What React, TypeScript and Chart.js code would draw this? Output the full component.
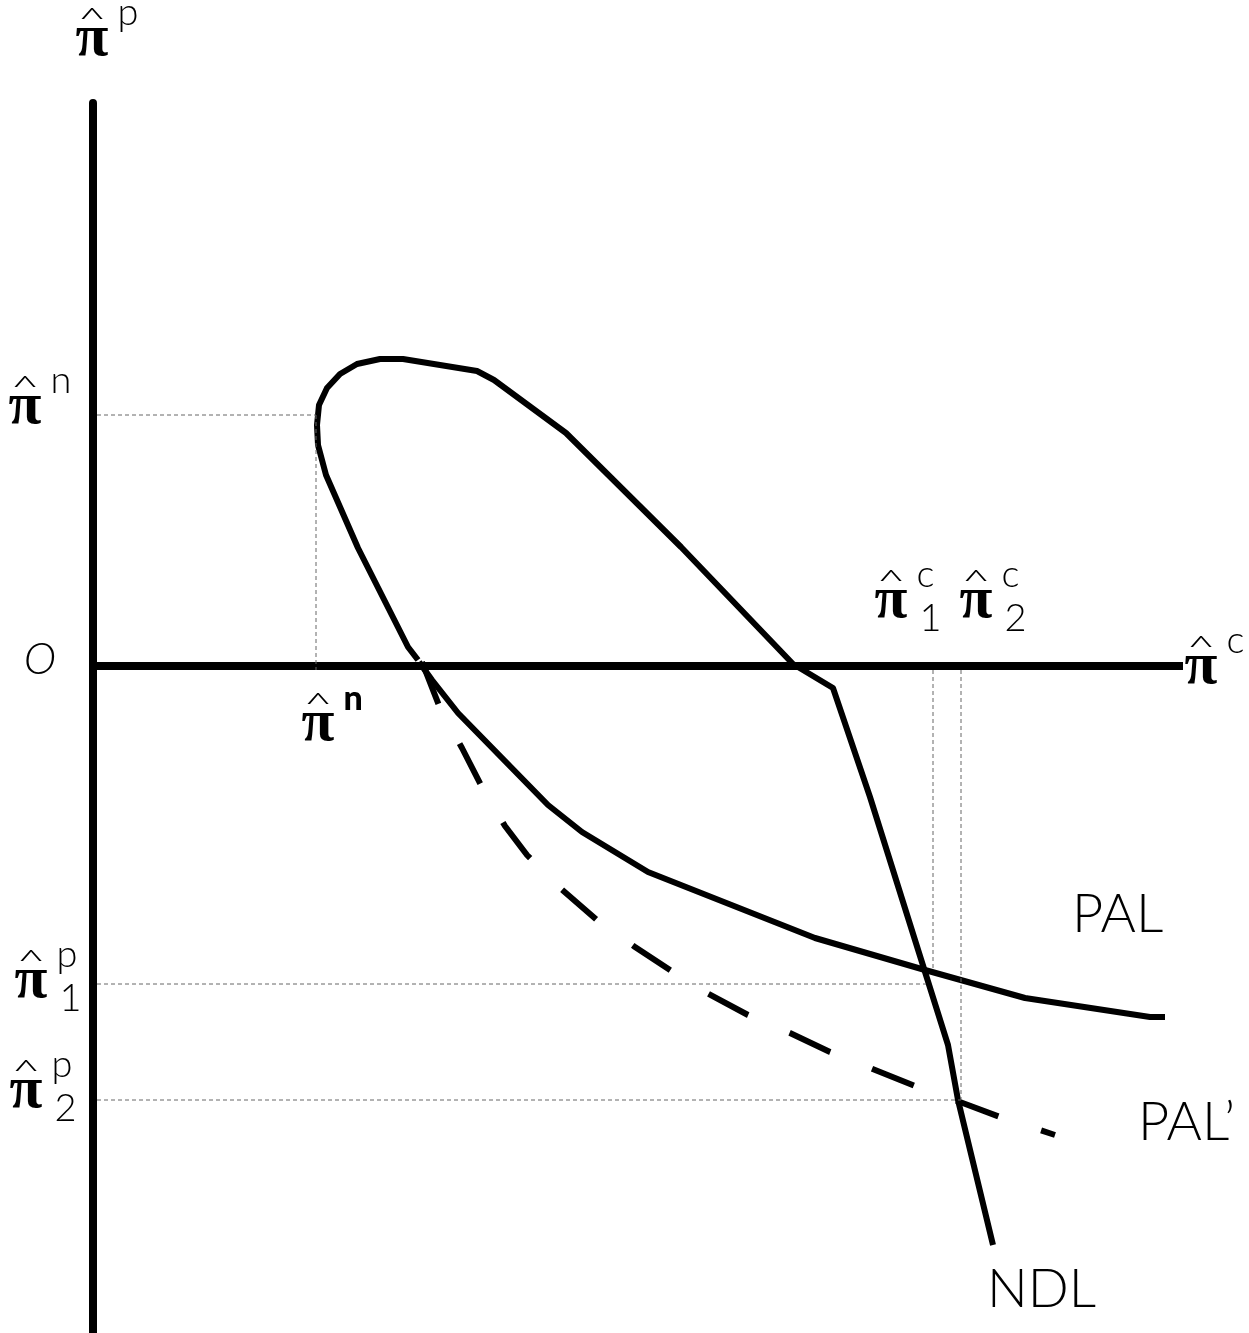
import { useEffect, useRef } from "react";
import { Chart, registerables } from "chart.js";

Chart.register(...registerables);

// Diagram coordinates: origin O at the crossing of the two axes.
const verticalAxis = [
  { x: 0, y: 56.3 },
  { x: 0, y: -66.7 },
];
const horizontalAxis = [
  { x: 0, y: 0 },
  { x: 109.0, y: 0 },
];

// NDL: rises from the lower right, loops over the top and comes back down to the axis.
const ndlCurve = [
  { x: 90.0, y: -57.9 },
  { x: 86.5, y: -43.4 },
  { x: 85.5, y: -37.9 },
  { x: 77.7, y: -13.1 },
  { x: 74.0, y: -2.2 },
  { x: 70.0, y: 0.2 },
  { x: 58.8, y: 11.9 },
  { x: 47.3, y: 23.3 },
  { x: 40.1, y: 28.6 },
  { x: 38.4, y: 29.5 },
  { x: 31.0, y: 30.7 },
  { x: 28.7, y: 30.7 },
  { x: 26.4, y: 30.2 },
  { x: 24.7, y: 29.2 },
  { x: 23.4, y: 27.8 },
  { x: 22.6, y: 26.1 },
  { x: 22.4, y: 24.1 },
  { x: 22.5, y: 22.1 },
  { x: 23.3, y: 19.1 },
  { x: 26.5, y: 11.8 },
  { x: 31.5, y: 1.9 },
  { x: 32.5, y: 0.6 },
];

// PAL: solid adjustment line.
const palCurve = [
  { x: 32.6, y: 0.4 },
  { x: 33.9, y: -1.4 },
  { x: 36.5, y: -4.7 },
  { x: 45.5, y: -13.9 },
  { x: 48.9, y: -16.6 },
  { x: 55.5, y: -20.6 },
  { x: 72.2, y: -27.2 },
  { x: 83.2, y: -30.4 },
  { x: 93.2, y: -33.2 },
  { x: 105.7, y: -35.1 },
  { x: 107.2, y: -35.1 },
];

// PAL': shifted (dashed) adjustment line.
const palShiftedCurve = [
  { x: 32.9, y: 0.4 },
  { x: 34.7, y: -4.2 },
  { x: 36.9, y: -8.2 },
  { x: 38.9, y: -12.1 },
  { x: 41.2, y: -16.0 },
  { x: 43.4, y: -18.9 },
  { x: 46.7, y: -22.2 },
  { x: 50.5, y: -25.5 },
  { x: 54.2, y: -28.1 },
  { x: 57.7, y: -30.4 },
  { x: 61.2, y: -32.6 },
  { x: 65.5, y: -34.9 },
  { x: 69.7, y: -36.7 },
  { x: 73.7, y: -38.6 },
  { x: 77.7, y: -40.2 },
  { x: 82.2, y: -42.0 },
  { x: 86.7, y: -43.6 },
  { x: 90.7, y: -45.1 },
  { x: 96.2, y: -46.9 },
];

// Thin dashed reference lines to the axes.
const guideNaturalH = [
  { x: 0.4, y: 25.1 },
  { x: 22.3, y: 25.1 },
];
const guideNaturalV = [
  { x: 22.3, y: 25.1 },
  { x: 22.3, y: -0.4 },
];
const guideFirstH = [
  { x: 0.4, y: -31.8 },
  { x: 83.3, y: -31.8 },
];
const guideFirstV = [
  { x: 84.0, y: -0.4 },
  { x: 84.0, y: -30.4 },
];
const guideSecondH = [
  { x: 0.4, y: -43.4 },
  { x: 86.8, y: -43.4 },
];
const guideSecondV = [
  { x: 86.8, y: -0.4 },
  { x: 86.8, y: -43.4 },
];

// Hatted pi symbols: anchor is the centre of the pi glyph and its baseline.
const piLabels = [
  { x: -0.1, y: 61.1, sup: "p", sub: "", bold: false },
  { x: -6.8, y: 24.3, sup: "n", sub: "", bold: false },
  { x: 22.5, y: -7.4, sup: "n", sub: "", bold: true },
  { x: 79.8, y: 4.9, sup: "c", sub: "1", bold: false },
  { x: 88.3, y: 4.9, sup: "c", sub: "2", bold: false },
  { x: 110.8, y: -1.7, sup: "c", sub: "", bold: false },
  { x: -6.2, y: -33.1, sup: "p", sub: "1", bold: false },
  { x: -6.7, y: -44.1, sup: "p", sub: "2", bold: false },
];

// Curve names, anchored at the left end of their baseline.
const curveNames = [
  { text: "PAL", x: 97.9, y: -26.6 },
  { text: "PAL\u2019", x: 104.5, y: -47.4 },
  { text: "NDL", x: 89.4, y: -64.1 },
];

const originLabel = { text: "O", x: -5.3, y: 0.6 };

const PI_FONT = "bold 60px 'Liberation Serif', 'DejaVu Serif', serif";
const HAT_FONT = "300 52px Lato, 'DejaVu Sans', sans-serif";
const SCRIPT_FONT = "300 38px Lato, 'DejaVu Sans', sans-serif";
const SCRIPT_BOLD_FONT = "900 34px Lato, 'DejaVu Sans', sans-serif";
const NAME_FONT = "300 54px Lato, 'DejaVu Sans', sans-serif";

function drawPi(
  ctx: CanvasRenderingContext2D,
  cx: number,
  base: number,
  sup: string,
  sub: string,
  bold: boolean
) {
  ctx.textAlign = "left";
  ctx.textBaseline = "alphabetic";
  ctx.font = PI_FONT;
  const m = ctx.measureText("\u03c0");
  const w = m.actualBoundingBoxLeft + m.actualBoundingBoxRight;
  const left = cx - w / 2;
  ctx.fillText("\u03c0", left + m.actualBoundingBoxLeft, base);
  const top = base - m.actualBoundingBoxAscent;

  // circumflex, flattened so it sits low over the pi like a math hat
  ctx.font = HAT_FONT;
  const h = ctx.measureText("^");
  const hw = h.actualBoundingBoxLeft + h.actualBoundingBoxRight;
  const squash = 0.6;
  const hatBottom = top - 9;
  ctx.save();
  ctx.translate(cx - hw / 2 + h.actualBoundingBoxLeft, hatBottom);
  ctx.scale(1, squash);
  ctx.fillText("^", 0, -h.actualBoundingBoxDescent);
  ctx.restore();

  if (sup) {
    ctx.font = bold ? SCRIPT_BOLD_FONT : SCRIPT_FONT;
    ctx.fillText(sup, left + w + 9, top - 3);
  }
  if (sub) {
    ctx.font = SCRIPT_FONT;
    ctx.fillText(sub, left + w + 12, base + 14);
  }
}

const labelPlugin = {
  id: "diagramLabels",
  afterDatasetsDraw(chart: Chart) {
    const ctx = chart.ctx;
    const sx = chart.scales.x;
    const sy = chart.scales.y;
    ctx.save();
    ctx.fillStyle = "#000";
    for (const l of piLabels) {
      drawPi(ctx, sx.getPixelForValue(l.x), sy.getPixelForValue(l.y), l.sup, l.sub, l.bold);
    }
    ctx.font = NAME_FONT;
    ctx.textAlign = "left";
    ctx.textBaseline = "alphabetic";
    for (const n of curveNames) {
      ctx.fillText(n.text, sx.getPixelForValue(n.x), sy.getPixelForValue(n.y));
    }
    ctx.font = "italic 300 44px Lato, 'DejaVu Sans', sans-serif";
    ctx.textAlign = "center";
    ctx.textBaseline = "middle";
    ctx.fillText(originLabel.text, sx.getPixelForValue(originLabel.x), sy.getPixelForValue(originLabel.y));
    ctx.restore();
  },
};

function lineSet(data: { x: number; y: number }[], width: number, extra: Record<string, unknown> = {}) {
  return {
    data,
    borderColor: "#000",
    borderWidth: width,
    pointRadius: 0,
    fill: false,
    tension: 0,
    clip: false as const,
    borderJoinStyle: "round" as const,
    borderCapStyle: "butt" as const,
    ...extra,
  };
}

function guideSet(data: { x: number; y: number }[]) {
  return lineSet(data, 1, { borderColor: "#666", borderDash: [4, 3], borderJoinStyle: "miter" });
}

export default function App() {
  const canvasRef = useRef<HTMLCanvasElement | null>(null);

  useEffect(() => {
    const canvas = canvasRef.current;
    if (!canvas) return;
    const chart = new Chart(canvas, {
      type: "line",
      data: {
        datasets: [
          guideSet(guideNaturalH),
          guideSet(guideNaturalV),
          guideSet(guideFirstH),
          guideSet(guideFirstV),
          guideSet(guideSecondH),
          guideSet(guideSecondV),
          lineSet(verticalAxis, 8),
          lineSet(horizontalAxis, 8),
          lineSet(palShiftedCurve, 6, { borderDash: [45, 45] }),
          lineSet(palCurve, 6),
          lineSet(ndlCurve, 6),
        ] as any,
      },
      options: {
        animation: false,
        responsive: false,
        devicePixelRatio: 1,
        events: [],
        layout: { padding: 0 },
        plugins: { legend: { display: false }, tooltip: { enabled: false } },
        scales: {
          x: { type: "linear", min: -9.3, max: 115.6, display: false },
          y: { type: "linear", min: -66.7, max: 66.6, display: false },
        },
      },
      plugins: [labelPlugin],
    });
    return () => chart.destroy();
  }, []);

  return (
    <div style={{ position: "absolute", left: 0, top: 0, width: 1249, height: 1333, background: "#fff" }}>
      <canvas ref={canvasRef} width={1249} height={1333} style={{ display: "block" }} />
    </div>
  );
}
